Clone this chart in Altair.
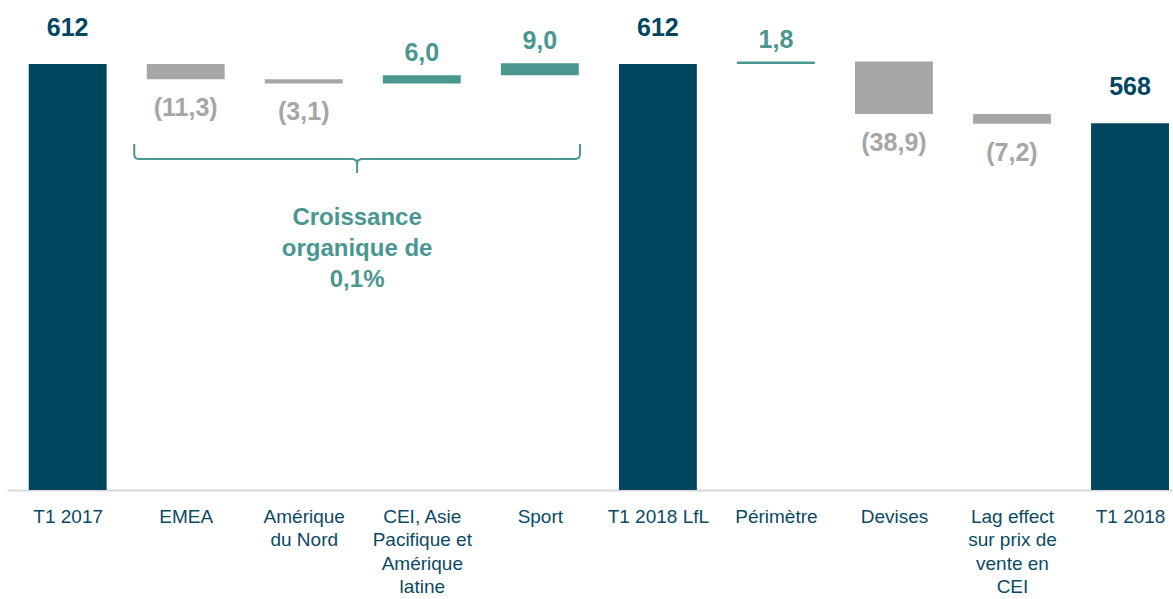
import json
import altair as alt
import pandas as pd

# ---------------- data ----------------
categories = ["T1 2017", "EMEA", "Amérique du Nord",
              "CEI, Asie Pacifique et Amérique latine", "Sport", "T1 2018 LfL",
              "Périmètre", "Devises", "Lag effect sur prix de vente en CEI", "T1 2018"]
axis_labels = ["T1 2017", "EMEA", "Amérique|du Nord",
               "CEI, Asie|Pacifique et|Amérique|latine", "Sport", "T1 2018 LfL",
               "Périmètre", "Devises", "Lag effect|sur prix de|vente en|CEI", "T1 2018"]
values = [612, -11.3, -3.1, 6.0, 9.0, 612, 1.8, -38.9, -7.2, 568]
kinds = ["total", "delta", "delta", "delta", "delta", "total", "delta", "delta", "delta", "total"]

brace_span = [0.564, 4.34]            # category-index units (EMEA .. Sport)
brace_levels = [552.7, 541.5, 531.2]  # top of hooks, main line, tip
brace_text = ["Croissance", "organique de", "0,1%"]
brace_text_level = 497.5

# ---------------- styling constants ----------------
Y_MIN, Y_MAX = 296.0, 659.5
X_MIN, X_MAX = -0.514, 9.364
NAVY, TEAL, GRAY = "#00465F", "#4A978F", "#A6A6A6"
FONT = "Liberation Sans"
HALF = 0.33

rows = []
running = 0.0
for i, (c, v, k) in enumerate(zip(categories, values, kinds)):
    if k == "total":
        start, end, running = Y_MIN, v, v
        label, grp = f"{v:.0f}", "total"
    else:
        start, end = running, running + v
        running = end
        txt = f"{abs(v):.1f}".replace(".", ",")
        label = f"({txt})" if v < 0 else txt
        grp = "neg" if v < 0 else "pos"
    rows.append(dict(idx=i, cat=c, x0=i - HALF, x1=i + HALF, start=start, end=end,
                     label=label, grp=grp))
df = pd.DataFrame(rows)


def brace_points(x0, x1, yt, yl, yb, rx=0.034, ry=3.0):
    xc = (x0 + x1) / 2
    k = 0.29
    pts = [(x0, yt), (x0, yl + ry), (x0 + k * rx, yl + k * ry), (x0 + rx, yl),
           (xc - rx, yl), (xc - k * rx, yl - k * ry), (xc, yl - ry), (xc, yb),
           (xc, yl - ry), (xc + k * rx, yl - k * ry), (xc + rx, yl),
           (x1 - rx, yl), (x1 - k * rx, yl + k * ry), (x1, yl + ry), (x1, yt)]
    return pd.DataFrame([dict(o=j, bx=p[0], by=p[1]) for j, p in enumerate(pts)])


brace_df = brace_points(brace_span[0], brace_span[1], *brace_levels)
brace_lbl_df = pd.DataFrame([dict(bx=sum(brace_span) / 2, by=brace_text_level,
                                  t="\n".join(brace_text))])

xscale = alt.Scale(domain=[X_MIN, X_MAX], nice=False, zero=False)
yscale = alt.Scale(domain=[Y_MIN, Y_MAX], nice=False, zero=False)

label_expr = "split(" + json.dumps(axis_labels, ensure_ascii=False) + "[round(datum.value)], '|')"

base = alt.Chart(df)

bars = base.mark_bar().encode(
    x=alt.X("x0:Q", scale=xscale,
            axis=alt.Axis(values=list(range(len(categories))), labelExpr=label_expr,
                          title=None, grid=False, ticks=False, tickSize=0,
                          labelFont=FONT, labelFontSize=19, labelColor="#0B4A64",
                          labelLineHeight=23.5, labelPadding=17, labelAngle=0,
                          labelAlign="center", labelBaseline="top",
                          labelFlush=False, labelOverlap=False, labelBound=False,
                          domainColor="#D9D9D9", domainWidth=2)),
    x2="x1:Q",
    y=alt.Y("start:Q", scale=yscale, axis=None),
    y2="end:Q",
    color=alt.Color("grp:N", scale=alt.Scale(domain=["total", "pos", "neg"],
                                             range=[NAVY, TEAL, GRAY]), legend=None),
)


def labels(grp, color, dy):
    return base.transform_filter(alt.datum.grp == grp).mark_text(
        font=FONT, fontSize=25, fontWeight="bold", color=color, dy=dy,
        baseline="middle", align="center"
    ).encode(x=alt.X("idx:Q", scale=xscale), y=alt.Y("end:Q", scale=yscale), text="label:N")


brace = alt.Chart(brace_df).mark_line(color=TEAL, strokeWidth=2).encode(
    x=alt.X("bx:Q", scale=xscale), y=alt.Y("by:Q", scale=yscale), order="o:Q")

brace_label = alt.Chart(brace_lbl_df).mark_text(
    font=FONT, fontSize=24, fontWeight="bold", color=TEAL, lineBreak="\n",
    lineHeight=31, baseline="middle", align="center"
).encode(x=alt.X("bx:Q", scale=xscale), y=alt.Y("by:Q", scale=yscale), text="t:N")

chart = alt.layer(
    bars,
    labels("total", NAVY, -36),
    labels("pos", TEAL, -22),
    labels("neg", GRAY, 29),
    brace,
    brace_label,
).properties(
    width=1166, height=490,
    padding={"left": 7, "top": 0, "right": 0, "bottom": 109},
    autosize=alt.AutoSizeParams(type="none"),
    background="white",
).configure_view(stroke=None)

chart.save("out.html", embed_options={"renderer": "svg", "actions": False})
